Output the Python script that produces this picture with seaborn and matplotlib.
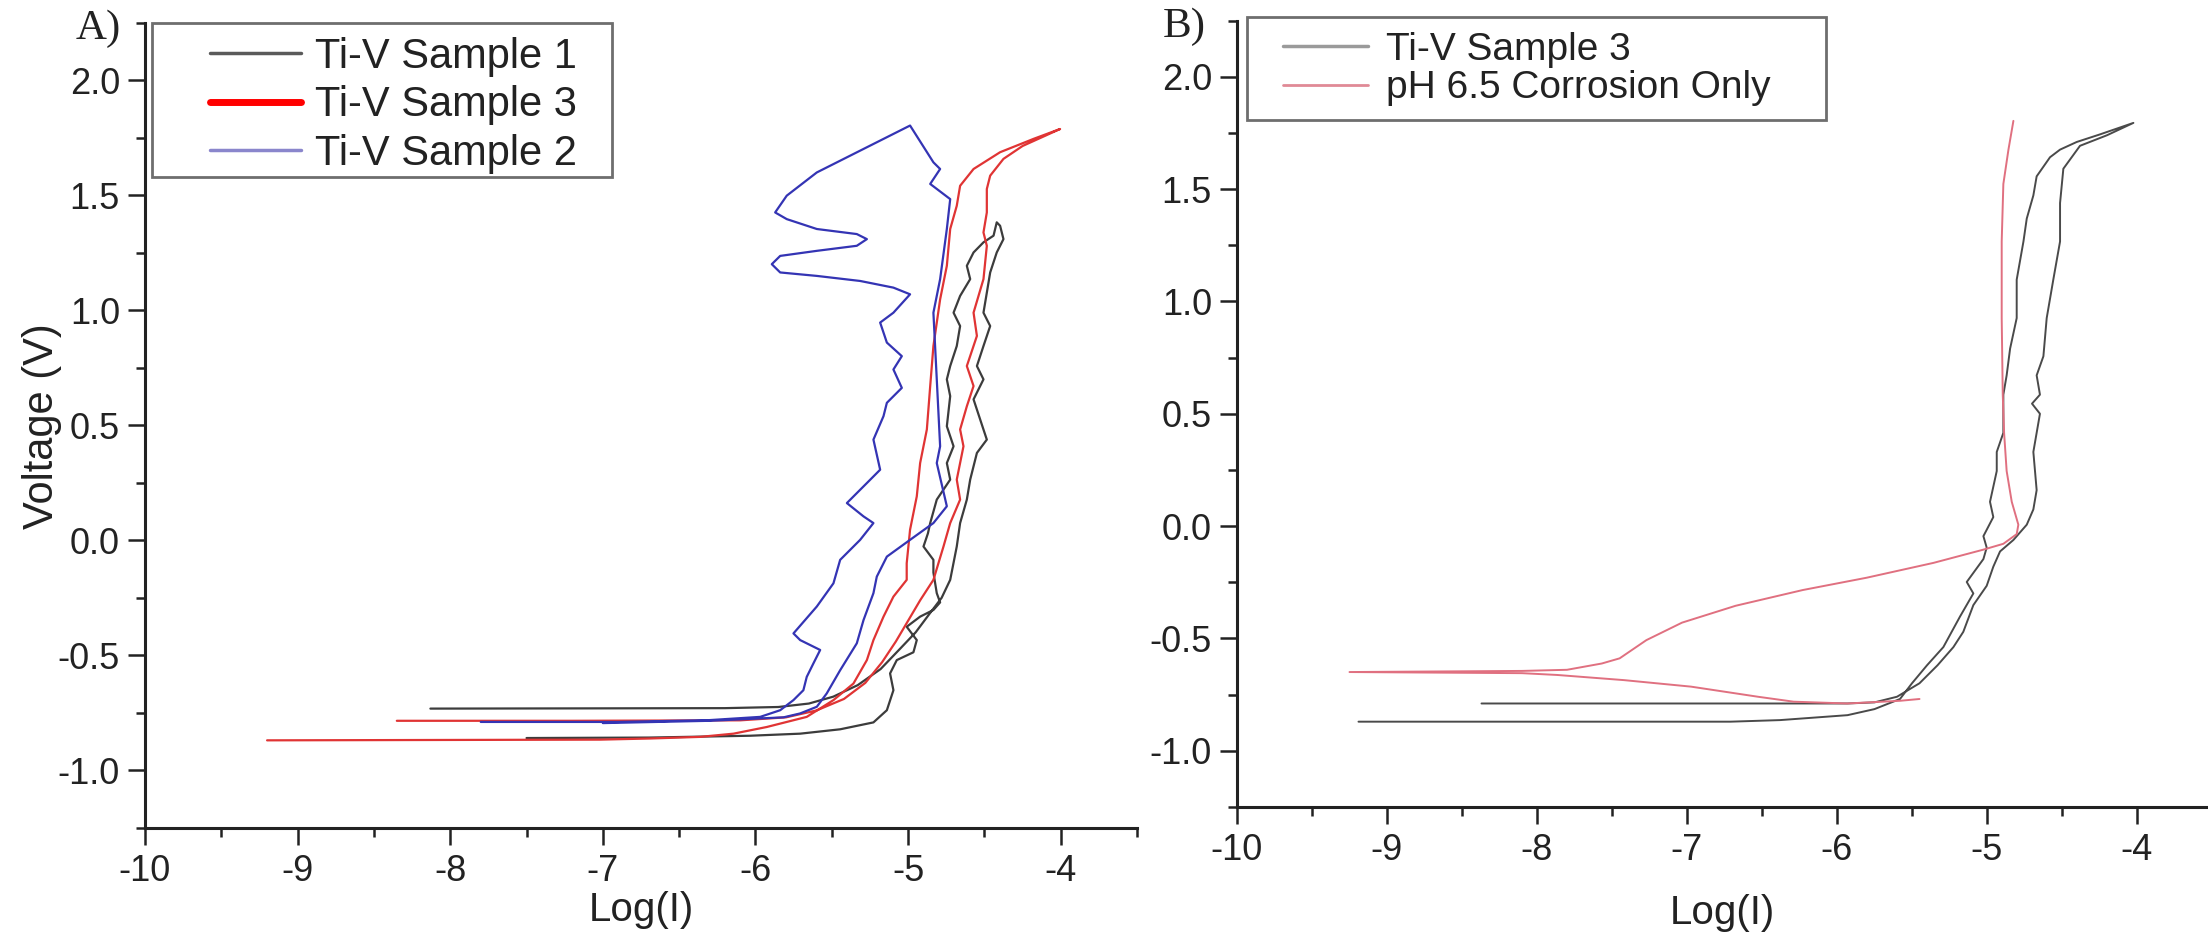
import matplotlib
matplotlib.use("Agg")
import matplotlib.pyplot as plt
from matplotlib.lines import Line2D
from matplotlib.patches import Rectangle
from matplotlib.ticker import MultipleLocator, FormatStrFormatter
import seaborn as sns
import pandas as pd

# ---------------- data ----------------
# Panel A : Ti-V Sample 1 (forward + reverse scan as one path)
a_s1_logI = [-7.50, -6.70, -6.035, -5.707, -5.445, -5.227, -5.139, -5.096, -5.118, -5.096,
             -5.074, -4.965, -4.943, -5.009, -4.921, -4.834, -4.790, -4.812, -4.834, -4.834,
             -4.899, -4.870, -4.855, -4.812, -4.724, -4.746, -4.702, -4.746, -4.724, -4.746,
             -4.724, -4.681, -4.659, -4.702, -4.659, -4.593, -4.615, -4.571, -4.506, -4.440,
             -4.419, -4.397,
             -4.375, -4.419, -4.462, -4.484, -4.506, -4.462, -4.506, -4.549, -4.506, -4.571,
             -4.506, -4.484, -4.549, -4.593, -4.615, -4.659, -4.681, -4.724, -4.780, -4.860,
             -4.950, -5.050, -5.180, -5.330, -5.490, -5.650, -5.850, -6.200, -7.100, -8.130]
a_s1_V = [-0.860, -0.858, -0.850, -0.841, -0.822, -0.792, -0.739, -0.652, -0.579, -0.550,
          -0.521, -0.487, -0.434, -0.376, -0.332, -0.303, -0.270, -0.230, -0.140, -0.085,
          -0.027, 0.030, 0.075, 0.177, 0.264, 0.336, 0.409, 0.496, 0.627, 0.700,
          0.758, 0.845, 0.932, 0.990, 1.063, 1.136, 1.194, 1.252, 1.296, 1.325,
          1.383, 1.368,
          1.310, 1.252, 1.165, 1.077, 0.990, 0.932, 0.845, 0.758, 0.700, 0.613,
          0.482, 0.438, 0.380, 0.264, 0.177, 0.075, -0.027, -0.172, -0.250, -0.320,
          -0.400, -0.470, -0.560, -0.630, -0.680, -0.710, -0.725, -0.730, -0.731, -0.732]

# Panel A : Ti-V Sample 3
a_s3_logI = [-9.20, -7.02, -6.690, -6.363, -6.144, -5.926, -5.664, -5.489, -5.358, -5.270,
             -5.227, -5.161, -5.096, -5.009, -5.009, -4.987, -4.943, -4.921, -4.877, -4.855,
             -4.834, -4.790, -4.746, -4.724, -4.681, -4.659, -4.571, -4.397, -4.178, -4.004,
             -4.100, -4.250, -4.375, -4.462, -4.484, -4.484, -4.506, -4.484, -4.506, -4.571,
             -4.549, -4.615, -4.571, -4.615, -4.659, -4.637, -4.681, -4.659, -4.724, -4.768,
             -4.834, -4.920, -5.000, -5.080, -5.170, -5.280, -5.420, -5.600, -5.800, -6.100,
             -7.200, -8.350]
a_s3_V = [-0.870, -0.867, -0.862, -0.855, -0.841, -0.812, -0.768, -0.695, -0.623, -0.521,
          -0.434, -0.332, -0.245, -0.172, -0.100, 0.046, 0.191, 0.336, 0.482, 0.671,
          0.845, 1.048, 1.194, 1.354, 1.455, 1.542, 1.615, 1.688, 1.746, 1.789,
          1.760, 1.715, 1.659, 1.586, 1.528, 1.426, 1.339, 1.281, 1.136, 0.990,
          0.889, 0.758, 0.671, 0.583, 0.482, 0.409, 0.264, 0.177, 0.075, -0.027,
          -0.172, -0.260, -0.350, -0.440, -0.530, -0.620, -0.690, -0.740, -0.770, -0.783,
          -0.785, -0.785]

# Panel A : Ti-V Sample 2
a_s2_logI = [-7.80, -6.90, -6.300, -5.969, -5.838, -5.751, -5.686, -5.664, -5.620, -5.576,
             -5.707, -5.751, -5.598, -5.489, -5.445, -5.314, -5.227, -5.292, -5.401, -5.270,
             -5.183, -5.227, -5.161, -5.139, -5.041, -5.096, -5.041, -5.139, -5.183, -5.096,
             -4.987, -5.096, -5.314, -5.598, -5.838, -5.893, -5.838, -5.598, -5.336, -5.270,
             -5.336, -5.598, -5.795, -5.871, -5.795, -5.598, -4.987, -4.834, -4.790, -4.855,
             -4.724, -4.746, -4.790, -4.834, -4.812, -4.790, -4.812, -4.746, -4.834, -4.987,
             -5.139, -5.205, -5.227, -5.292, -5.336, -5.445, -5.533, -5.598, -5.707, -5.816,
             -6.300, -7.000]
a_s2_V = [-0.790, -0.790, -0.782, -0.768, -0.739, -0.695, -0.652, -0.594, -0.535, -0.477,
          -0.434, -0.405, -0.288, -0.187, -0.085, 0.002, 0.075, 0.104, 0.162, 0.249,
          0.307, 0.438, 0.540, 0.598, 0.663, 0.743, 0.801, 0.860, 0.947, 0.990,
          1.070, 1.099, 1.128, 1.150, 1.165, 1.201, 1.237, 1.259, 1.281, 1.310,
          1.332, 1.354, 1.397, 1.426, 1.499, 1.600, 1.804, 1.644, 1.615, 1.550,
          1.484, 1.354, 1.136, 0.990, 0.700, 0.409, 0.336, 0.148, 0.075, 0.002,
          -0.071, -0.158, -0.230, -0.347, -0.448, -0.565, -0.666, -0.724, -0.753, -0.770,
          -0.785, -0.795]

# Panel B : Ti-V Sample 3
b_s3_logI = [-9.19, -6.71, -6.38, -5.93, -5.75, -5.58, -5.50, -5.40, -5.291, -5.180,
             -5.091, -5.135, -5.024, -5.002, -5.024, -4.958, -4.980, -4.935, -4.935, -4.891,
             -4.891, -4.869, -4.846, -4.802, -4.802, -4.757, -4.735, -4.691, -4.669, -4.580,
             -4.513, -4.402, -4.246, -4.024,
             -4.200, -4.380, -4.491, -4.513, -4.513, -4.558, -4.602, -4.624, -4.669, -4.647,
             -4.700, -4.647, -4.691, -4.669, -4.691, -4.735, -4.824, -4.913, -4.958, -5.002,
             -5.091, -5.158, -5.224, -5.330, -5.450, -5.600, -5.750, -5.930, -8.370]
b_s3_V = [-0.871, -0.871, -0.864, -0.842, -0.815, -0.770, -0.700, -0.620, -0.539, -0.403,
          -0.300, -0.249, -0.147, -0.096, -0.045, 0.040, 0.108, 0.245, 0.330, 0.415,
          0.585, 0.671, 0.790, 0.926, 1.097, 1.267, 1.369, 1.472, 1.557, 1.642,
          1.676, 1.710, 1.744, 1.795,
          1.740, 1.693, 1.591, 1.438, 1.267, 1.097, 0.926, 0.756, 0.671, 0.585,
          0.545, 0.500, 0.330, 0.160, 0.074, 0.006, -0.062, -0.113, -0.181, -0.266,
          -0.352, -0.471, -0.539, -0.620, -0.700, -0.760, -0.785, -0.790, -0.790]

# Panel B : pH 6.5 Corrosion Only
b_ph_logI = [-5.45, -5.58, -5.932, -6.289, -6.527, -6.973, -7.420, -7.866, -8.10, -9.25,
             -8.10, -7.80, -7.568, -7.449, -7.271, -7.033, -6.676, -6.229, -5.802, -5.357,
             -5.024, -4.891, -4.802, -4.791, -4.835, -4.869, -4.886, -4.895, -4.902, -4.902,
             -4.891, -4.857, -4.824]
b_ph_V = [-0.770, -0.778, -0.790, -0.782, -0.760, -0.715, -0.686, -0.663, -0.655, -0.650,
          -0.645, -0.640, -0.612, -0.589, -0.508, -0.430, -0.355, -0.285, -0.230, -0.164,
          -0.105, -0.079, -0.036, 0.006, 0.108, 0.245, 0.415, 0.585, 0.926, 1.267,
          1.523, 1.676, 1.804]

legend_a = ["Ti-V Sample 1", "Ti-V Sample 3", "Ti-V Sample 2"]
legend_b = ["Ti-V Sample 3", "pH 6.5 Corrosion Only"]
x_ticks = [-10, -9, -8, -7, -6, -5, -4]
y_ticks = [-1.0, -0.5, 0.0, 0.5, 1.0, 1.5, 2.0]

# ---------------- style ----------------
sns.set_style("ticks")
plt.rcParams["font.family"] = ["Liberation Sans", "DejaVu Sans"]
plt.rcParams["axes.unicode_minus"] = False

W, H = 2208, 932
fig = plt.figure(figsize=(W / 100, H / 100), dpi=100)
fig.patch.set_facecolor("white")

def fx(px):
    return px / W

def fy(py):
    return 1 - py / H

axA = fig.add_axes([fx(145), fy(827.7), (1137 - 145) / W, (827.7 - 23) / H])
axB = fig.add_axes([fx(1237), fy(806.8), (2212 - 1237) / W, (806.8 - 20.7) / H])

dfA1 = pd.DataFrame({"logI": a_s1_logI, "V": a_s1_V})
dfA3 = pd.DataFrame({"logI": a_s3_logI, "V": a_s3_V})
dfA2 = pd.DataFrame({"logI": a_s2_logI, "V": a_s2_V})
dfB3 = pd.DataFrame({"logI": b_s3_logI, "V": b_s3_V})
dfBp = pd.DataFrame({"logI": b_ph_logI, "V": b_ph_V})

kw = dict(x="logI", y="V", sort=False, estimator=None)
sns.lineplot(data=dfA1, ax=axA, color="#3c3c3c", lw=1.6, **kw)
sns.lineplot(data=dfA3, ax=axA, color="#e03434", lw=1.6, **kw)
sns.lineplot(data=dfA2, ax=axA, color="#3434b4", lw=1.6, **kw)
sns.lineplot(data=dfB3, ax=axB, color="#4a4a4a", lw=1.4, **kw)
sns.lineplot(data=dfBp, ax=axB, color="#e07080", lw=1.4, **kw)

for ax in (axA, axB):
    ax.set_xlim(-10, -3.5)
    ax.set_ylim(-1.25, 2.25)
    ax.set_xticks(x_ticks)
    ax.set_yticks(y_ticks)
    ax.xaxis.set_minor_locator(MultipleLocator(0.5))
    ax.yaxis.set_minor_locator(MultipleLocator(0.25))
    ax.yaxis.set_major_formatter(FormatStrFormatter("%.1f"))
    ax.xaxis.set_major_formatter(FormatStrFormatter("%d"))
    ax.spines["top"].set_visible(False)
    ax.spines["right"].set_visible(False)
    for s in ("left", "bottom"):
        ax.spines[s].set_linewidth(2.2)
        ax.spines[s].set_color("#222222")
    ax.tick_params(which="major", direction="out", length=12, width=1.8,
                   color="#222222", labelsize=26, labelcolor="#222222")
    ax.tick_params(which="minor", direction="out", length=6.5, width=1.8, color="#222222")
    ax.tick_params(axis="y", which="major", pad=6)
    ax.tick_params(axis="x", which="major", pad=7)
    ax.set_xlabel("")
    ax.set_ylabel("")
    ax.set_facecolor("white")
    ax.grid(False)
    for sp in ax.spines.values():
        sp.set_clip_on(False)

# axis labels
fig.text(fx(42), fy(426), "Voltage (V)", rotation=90, ha="center", va="center",
         fontsize=30, color="#222222")
fig.text(fx(641), fy(910), "Log(I)", ha="center", va="center", fontsize=29, color="#222222")
fig.text(fx(1722), fy(913), "Log(I)", ha="center", va="center", fontsize=29, color="#222222")

# panel letters
fig.text(fx(98), fy(29), "A)", ha="center", va="center", fontsize=31,
         family="Liberation Serif", color="#222222")
fig.text(fx(1184), fy(27), "B)", ha="center", va="center", fontsize=31,
         family="Liberation Serif", color="#222222")

# legends
hA = [Line2D([], [], color="#5a5a5a", lw=2.5),
      Line2D([], [], color="#ff0000", lw=5),
      Line2D([], [], color="#8a86cc", lw=2.5)]
legA = axA.legend(hA, legend_a, loc="upper left", bbox_to_anchor=(fx(210), fy(37)),
                  bbox_transform=fig.transFigure, frameon=False, borderpad=0,
                  borderaxespad=0, handlelength=2.18, handletextpad=0.34,
                  labelspacing=0.2, fontsize=30)
for t in legA.get_texts():
    t.set_color("#222222")
fig.patches.append(Rectangle((fx(151.7), fy(177)), (612 - 151.7) / W, (177 - 22.7) / H,
                             transform=fig.transFigure, fill=False, ec="#6e6e6e", lw=2))

hB = [Line2D([], [], color="#9a9a9a", lw=2.5),
      Line2D([], [], color="#e08a96", lw=2.0)]
legB = axB.legend(hB, legend_b, loc="upper left", bbox_to_anchor=(fx(1283), fy(32)),
                  bbox_transform=fig.transFigure, frameon=False, borderpad=0,
                  borderaxespad=0, handlelength=2.19, handletextpad=0.46,
                  labelspacing=0.06, fontsize=28)
for t in legB.get_texts():
    t.set_color("#222222")
fig.patches.append(Rectangle((fx(1247), fy(120)), (1826 - 1247) / W, (120 - 17) / H,
                             transform=fig.transFigure, fill=False, ec="#6e6e6e", lw=2))

fig.savefig("out.png", dpi=100, facecolor="white")
